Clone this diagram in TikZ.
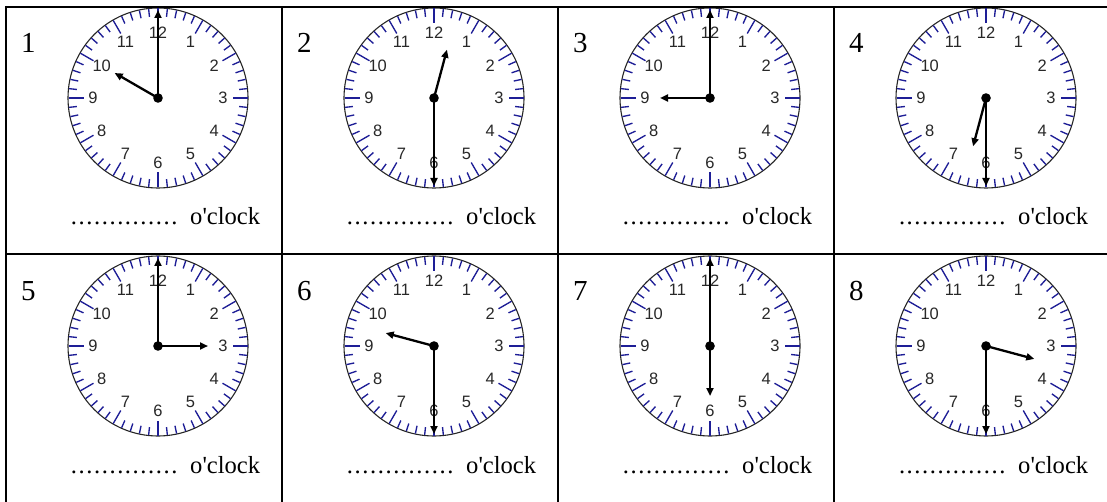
\documentclass[tikz,border=0pt]{standalone}
\usepackage{fontspec}
\setmainfont{Liberation Serif}
\newfontfamily\clockfont{Liberation Sans}
\usetikzlibrary{arrows.meta}
\definecolor{tickblue}{RGB}{30,30,150}
\definecolor{numgray}{RGB}{40,40,40}
\tikzset{
  gridline/.style={line width=2pt, black},
  face/.style={circle, draw=black!85, line width=1.1pt, minimum size=180pt, inner sep=0pt},
  ticks/.style={tickblue, line width=1.35pt},
  numlbl/.style={font=\clockfont\fontsize{16.5}{16.5}\selectfont, text=numgray, inner sep=0pt},
  hand/.style={line width=2.3pt, -{Triangle[length=8pt,width=7pt]}},
  cellnum/.style={font=\fontsize{29}{29}\selectfont, anchor=base west, inner sep=0pt},
  answer/.style={font=\fontsize{24.6}{24.6}\selectfont, anchor=base west, inner sep=0pt},
}
% #1 name, #2 x, #3 y, #4 hour position (in hours), #5 minute position (in minutes)
\newcommand\myclock[5]{%
  \begin{scope}[shift={(#2,#3)}]
    \node[face] (#1) at (0,0) {};
    \foreach \m in {0,...,59}{
      \pgfmathsetmacro\len{mod(\m,5)==0 ? 15 : 8}
      \draw[ticks] (-90+6*\m:89.5) -- (-90+6*\m:89.5-\len);
    }
    \foreach \h in {1,...,12}{
      \node[numlbl] (#1n\h) at (-90+30*\h:65) {\h};
    }
    \coordinate (#1h) at (-90+30*#4:50);
    \coordinate (#1m) at (-90+6*#5:88);
    \draw[hand] (#1.center) -- (#1m);
    \draw[hand] (#1.center) -- (#1h);
    \fill (#1.center) circle (4.8);
  \end{scope}
}
\newcommand\myanswer[2]{\node[answer] (#1) at (#2) {\hbox to 108pt{\xleaders\hbox to 7.7pt{\hss.\hss}\hfill}\hspace{12pt}o\textquotesingle clock};}
\begin{document}
\begin{tikzpicture}[x=1pt,y=-1pt]
  \useasboundingbox (0,0) rectangle (1107,502);
  % clocks row 1
  \myclock{c1}{158}{98}{10}{0}
  \myclock{c2}{434}{98}{0.5}{30}
  \myclock{c3}{710}{98}{9}{0}
  \myclock{c4}{986}{98}{6.5}{30}
  % clocks row 2
  \myclock{c5}{158}{346}{3}{0}
  \myclock{c6}{434}{346}{9.5}{30}
  \myclock{c7}{710}{346}{6}{0}
  \myclock{c8}{986}{346}{3.5}{30}
  % cell numbers
  \node[cellnum] (l1) at (21,53) {1};
  \node[cellnum] (l2) at (297,53) {2};
  \node[cellnum] (l3) at (573,53) {3};
  \node[cellnum] (l4) at (849,53) {4};
  \node[cellnum] (l5) at (21,301) {5};
  \node[cellnum] (l6) at (297,301) {6};
  \node[cellnum] (l7) at (573,301) {7};
  \node[cellnum] (l8) at (849,301) {8};
  % answers
  \myanswer{a1}{70,225}
  \myanswer{a2}{346,225}
  \myanswer{a3}{622,225}
  \myanswer{a4}{898,225}
  \myanswer{a5}{70,473}
  \myanswer{a6}{346,473}
  \myanswer{a7}{622,473}
  \myanswer{a8}{898,473}
  % table grid
  \draw[gridline] (6,7) -- (1110,7);
  \draw[gridline] (6,254) -- (1110,254);
  \draw[gridline] (6,6) -- (6,505);
  \draw[gridline] (282,7) -- (282,505);
  \draw[gridline] (558,7) -- (558,505);
  \draw[gridline] (834,7) -- (834,505);
\end{tikzpicture}
\end{document}
